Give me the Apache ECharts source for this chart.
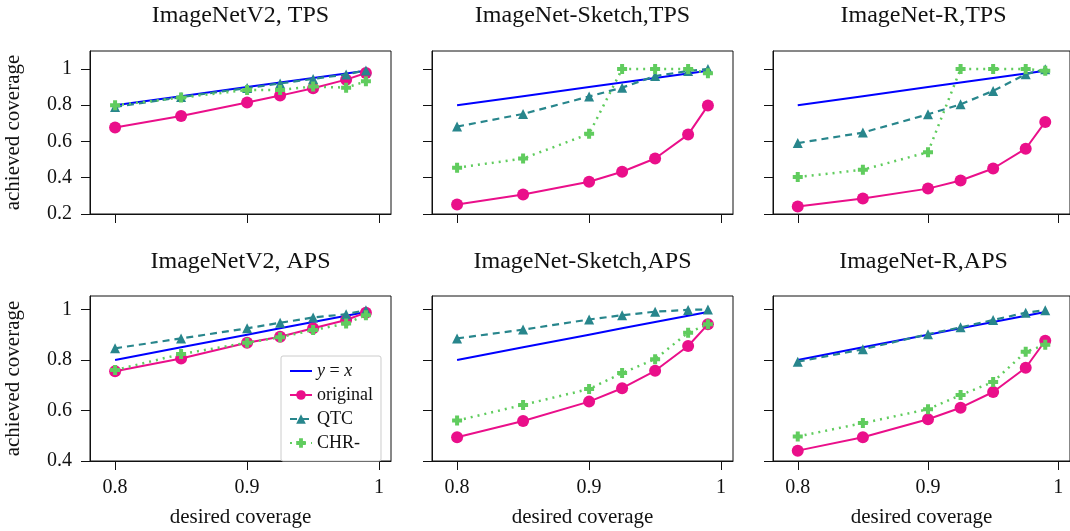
<!DOCTYPE html>
<html lang="en">
<head>
<meta charset="UTF-8">
<title>coverage</title>
<script src="https://cdn.jsdelivr.net/npm/echarts@6/dist/echarts.min.js"></script>
<style>
  *{margin:0;padding:0}
  #c{width:1070px;height:531px;background:#fff}
</style>
</head>
<body>
<div id="c"></div>
<script>
// x values (desired coverage)
var desired = [0.8, 0.85, 0.9, 0.925, 0.95, 0.975, 0.99];
var xTicks = [0.8, 0.9, 1];
var yTicksTop = [0.2, 0.4, 0.6, 0.8, 1];
var yTicksBottom = [0.4, 0.6, 0.8, 1];
var panelTitles = ['ImageNetV2, TPS', 'ImageNet-Sketch,TPS', 'ImageNet-R,TPS',
                   'ImageNetV2, APS', 'ImageNet-Sketch,APS', 'ImageNet-R,APS'];

// achieved coverage
var origV2Tps = [0.677, 0.741, 0.815, 0.853, 0.894, 0.941, 0.978];
var qtcV2Tps  = [0.79, 0.845, 0.895, 0.92, 0.945, 0.97, 0.992];
var chrV2Tps  = [0.80, 0.842, 0.884, 0.884, 0.903, 0.897, 0.932];

var origSkTps = [0.253, 0.307, 0.378, 0.433, 0.506, 0.638, 0.798];
var qtcSkTps  = [0.682, 0.752, 0.848, 0.897, 0.961, 0.989, 1.0];
var chrSkTps  = [0.455, 0.506, 0.642, 1.0, 1.0, 1.0, 0.976];

var origRTps = [0.242, 0.285, 0.34, 0.385, 0.451, 0.56, 0.708];
var qtcRTps  = [0.591, 0.649, 0.75, 0.805, 0.879, 0.971, 0.998];
var chrRTps  = [0.404, 0.444, 0.541, 1.0, 1.0, 1.0, 0.99];

var origV2Aps = [0.755, 0.806, 0.868, 0.892, 0.925, 0.958, 0.987];
var qtcV2Aps  = [0.846, 0.885, 0.925, 0.947, 0.968, 0.981, 0.997];
var chrV2Aps  = [0.76, 0.823, 0.868, 0.89, 0.918, 0.944, 0.977];

var origSkAps = [0.494, 0.558, 0.635, 0.688, 0.757, 0.855, 0.941];
var qtcSkAps  = [0.885, 0.92, 0.96, 0.977, 0.991, 0.998, 1.0];
var chrSkAps  = [0.56, 0.622, 0.685, 0.748, 0.803, 0.908, 0.941];

var origRAps = [0.441, 0.494, 0.565, 0.611, 0.673, 0.769, 0.876];
var qtcRAps  = [0.793, 0.842, 0.902, 0.929, 0.958, 0.987, 0.997];
var chrRAps  = [0.497, 0.55, 0.605, 0.661, 0.713, 0.832, 0.86];

var panels = [
  [origV2Tps, qtcV2Tps, chrV2Tps], [origSkTps, qtcSkTps, chrSkTps], [origRTps, qtcRTps, chrRTps],
  [origV2Aps, qtcV2Aps, chrV2Aps], [origSkAps, qtcSkAps, chrSkAps], [origRAps, qtcRAps, chrRAps]
];

var FONT = 'Liberation Serif';
var colLeft = [90, 432, 773];
var W = 301;
var rowTop = [51, 296];
var rowH = [163, 165];
var plusPath = 'path://M3,0 L7,0 L7,3 L10,3 L10,7 L7,7 L7,10 L3,10 L3,7 L0,7 L0,3 L3,3 Z';
var barPath = 'path://M0,0 L22,0 L22,2 L0,2 Z';

function fmt(v) { return String(Math.round(v * 10) / 10); }
function pairs(vals) { return desired.map(function (x, k) { return [x, vals[k]]; }); }

var grids = [], xAxes = [], yAxes = [], titles = [], series = [];
for (var i = 0; i < 6; i++) {
  var r = Math.floor(i / 3), c = i % 3;
  grids.push({left: colLeft[c], top: rowTop[r], width: W, height: rowH[r],
    show: true, borderColor: '#111', borderWidth: 1, backgroundColor: '#fff'});
  titles.push({text: panelTitles[i], left: colLeft[c] + W / 2, top: r === 0 ? 4 : 250,
    textAlign: 'center', padding: 0,
    textStyle: {fontFamily: FONT, fontSize: 24, fontWeight: 'normal', color: '#111'}});
  xAxes.push({type: 'value', gridIndex: i, min: 0.781, max: 1.009,
    name: r === 1 ? 'desired coverage' : '', nameLocation: 'middle', nameGap: 46,
    nameTextStyle: {fontFamily: FONT, fontSize: 21, color: '#111'},
    axisLine: {show: true, lineStyle: {color: '#111', width: 1}},
    axisTick: {show: true, length: 9, customValues: xTicks, lineStyle: {color: '#111'}},
    axisLabel: {show: r === 1, customValues: xTicks, margin: 17, formatter: fmt,
      fontFamily: FONT, fontSize: 20, color: '#111'},
    splitLine: {show: false}});
  var yt = r === 0 ? yTicksTop : yTicksBottom;
  yAxes.push({type: 'value', gridIndex: i, min: r === 0 ? 0.2 : 0.4, max: r === 0 ? 1.099 : 1.053,
    name: c === 0 ? 'achieved coverage' : '', nameLocation: 'middle', nameGap: 66,
    nameTextStyle: {fontFamily: FONT, fontSize: 21, color: '#111'},
    axisLine: {show: true, lineStyle: {color: '#111', width: 1}},
    axisTick: {show: true, length: 9, customValues: yt, lineStyle: {color: '#111'}},
    axisLabel: {show: c === 0, customValues: yt, margin: 18, formatter: fmt,
      fontFamily: FONT, fontSize: 20, color: '#111'},
    splitLine: {show: false}});

  var d = panels[i];
  series.push({name: 'y = x', type: 'line', xAxisIndex: i, yAxisIndex: i,
    data: pairs(desired), symbol: 'none', color: '#0000ff',
    lineStyle: {color: '#0000ff', width: 2}, z: 2});
  series.push({name: 'original', type: 'line', xAxisIndex: i, yAxisIndex: i,
    data: pairs(d[0]), symbol: 'circle', symbolSize: 12, color: '#ea0f8a',
    itemStyle: {color: '#ea0f8a'}, lineStyle: {color: '#ea0f8a', width: 2}, z: 3});
  series.push({name: 'QTC', type: 'line', xAxisIndex: i, yAxisIndex: i,
    data: pairs(d[1]), symbol: 'triangle', symbolSize: 10, color: '#28868c',
    itemStyle: {color: '#28868c'}, lineStyle: {color: '#28868c', width: 2.2, type: [7, 5]}, z: 4});
  series.push({name: 'CHR-', type: 'line', xAxisIndex: i, yAxisIndex: i,
    data: pairs(d[2]), symbol: plusPath, symbolSize: 10, color: '#60cc5e',
    itemStyle: {color: '#60cc5e'}, lineStyle: {color: '#60cc5e', width: 2.5, type: [2, 5]}, z: 5});
}

var chart = echarts.init(document.getElementById('c'), null, {renderer: 'canvas'});
chart.setOption({
  backgroundColor: '#fff',
  animation: false,
  title: titles,
  grid: grids,
  xAxis: xAxes,
  yAxis: yAxes,
  legend: {
    data: [{name: 'y = x', icon: barPath, itemStyle: {color: '#0000ff'}}, 'original', 'QTC', 'CHR-'],
    orient: 'vertical', left: 281, top: 356,
    padding: [6, 8, 9, 8], itemGap: 6, itemWidth: 22, itemHeight: 12,
    backgroundColor: '#fff', borderColor: '#cccccc', borderWidth: 1, borderRadius: 2,
    formatter: function (n) { return n === 'y = x' ? '{i|y} = {i|x}' : n; },
    textStyle: {fontFamily: FONT, fontSize: 18, color: '#111',
      rich: {i: {fontFamily: FONT, fontStyle: 'italic', fontSize: 18, color: '#111'}}}
  },
  series: series
});
</script>
</body>
</html>
